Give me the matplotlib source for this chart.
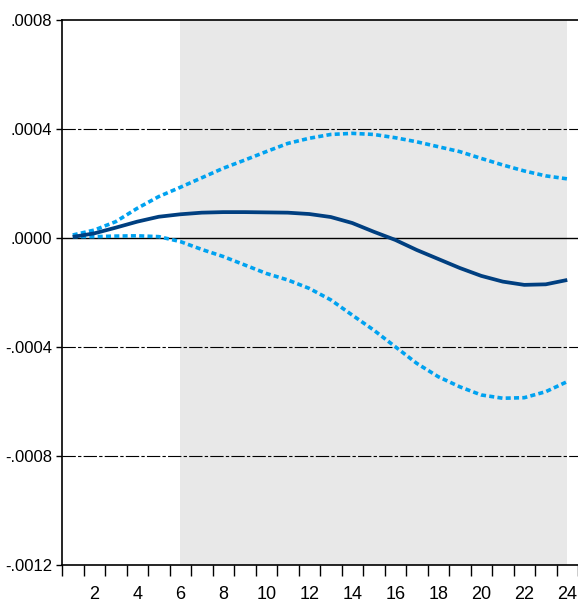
import numpy as np
import matplotlib
matplotlib.use("Agg")
import matplotlib.pyplot as plt

periods = np.arange(1, 25)
response = [0.000004, 0.000017, 0.000038, 0.000060, 0.000078, 0.000087, 0.000093, 0.000095,
            0.000095, 0.000094, 0.000093, 0.000088, 0.000077, 0.000055, 0.000023, -0.000007,
            -0.000044, -0.000077, -0.000110, -0.000139, -0.000160, -0.000172, -0.000170, -0.000154]
upper = [0.000011, 0.000029, 0.000060, 0.000109, 0.000152, 0.000186, 0.000221, 0.000256,
         0.000286, 0.000317, 0.000347, 0.000366, 0.000380, 0.000384, 0.000380, 0.000368,
         0.000353, 0.000335, 0.000317, 0.000292, 0.000268, 0.000246, 0.000228, 0.000217]
lower = [0.000005, 0.000005, 0.000007, 0.000008, 0.000005, -0.000013, -0.000042, -0.000068,
         -0.000099, -0.000130, -0.000154, -0.000185, -0.000227, -0.000283, -0.000338, -0.000399,
         -0.000460, -0.000509, -0.000546, -0.000576, -0.000588, -0.000586, -0.000564, -0.000527]
y_ticks = [-0.0012, -0.0008, -0.0004, 0.0, 0.0004, 0.0008]
y_labels = ["-.0012", "-.0008", "-.0004", ".0000", ".0004", ".0008"]
x_labels = list(range(2, 25, 2))
shade_start, shade_end = 6, 24

plt.rcParams["font.family"] = ["Liberation Sans", "DejaVu Sans"]

W, H = 578, 608
fig = plt.figure(figsize=(W / 100, H / 100), dpi=100)
ax = fig.add_axes([62 / W, 43 / H, 1 - 62 / W, (565 - 20) / H])

ax.axvspan(shade_start, shade_end, color="#e8e8e8", lw=0, zorder=0)

for v in (0.0004, -0.0004, -0.0008):
    ax.axhline(v, color="black", lw=0.8, dashes=(12, 2, 3, 2), zorder=1)
ax.axhline(0, color="black", lw=1.0, zorder=1)

ax.plot(periods, upper, color="#00a2f0", lw=2.6, dashes=(1.4, 0.9), zorder=3)
ax.plot(periods, lower, color="#00a2f0", lw=2.6, dashes=(1.4, 0.9), zorder=3)
ax.plot(periods, response, color="#003f80", lw=2.7, solid_capstyle="butt", zorder=4)

ax.set_xlim(0.5, 0.5 + (W - 62) / 21.6)
ax.set_ylim(-0.0012, 0.0008)

ax.set_yticks(y_ticks)
ax.set_yticklabels(y_labels)
ax.tick_params(axis="y", direction="out", length=4, width=1, pad=3, labelsize=12)

ax.set_xticks(np.arange(0.5, 25, 1))
ax.set_xticklabels([])
ax.tick_params(axis="x", which="major", direction="out", length=8, width=1)
ax.set_xticks(x_labels, minor=True)
ax.set_xticklabels([str(v) for v in x_labels], minor=True)
ax.tick_params(axis="x", which="minor", length=0, pad=15, labelsize=13)

ax.spines["right"].set_visible(False)
for s in ("left", "top", "bottom"):
    ax.spines[s].set_linewidth(1.2)

fig.savefig("out.png", dpi=100)
